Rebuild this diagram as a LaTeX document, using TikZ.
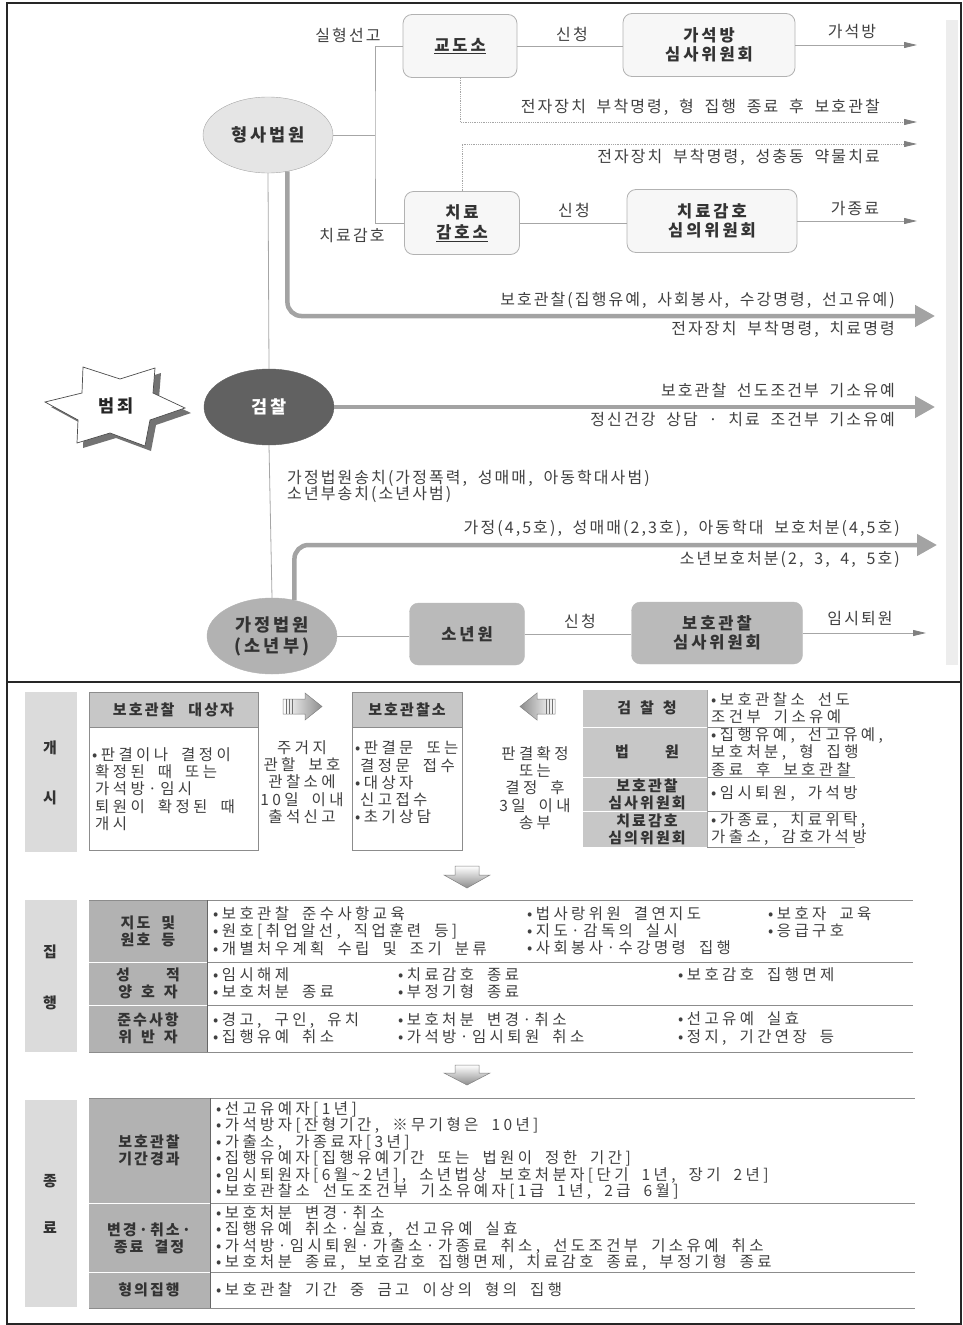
\documentclass[tikz,border=0pt]{standalone}
\usepackage{fontspec}
\setmainfont{Noto Sans CJK KR}
\newfontfamily\topf{Noto Sans CJK KR}[LetterSpace=13, WordSpace=1.9]
\newfontfamily\boxf{Noto Sans CJK KR}[LetterSpace=18]
\newfontfamily\botf{Noto Sans CJK KR}[LetterSpace=22, WordSpace=1.9]
\newfontfamily\both{Noto Sans CJK KR}[LetterSpace=14, WordSpace=2]
\usetikzlibrary{shapes.geometric,arrows.meta,calc}
\tikzset{
 lab/.style={font=\topf\fontsize{16}{18}\selectfont, text=black!75, inner sep=0pt},
 wbox/.style={draw=black!30, fill=black!3, rounded corners=9pt, line width=0.8pt, minimum width=#1, minimum height=63pt, align=center, font=\boxf\bfseries\fontsize{16.5}{19.5}\selectfont, text=black!80, inner sep=0pt},
 gbox/.style={draw=black!27, fill=black!27, rounded corners=9pt, minimum width=#1, minimum height=62pt, align=center, font=\boxf\bfseries\fontsize{16.5}{19.5}\selectfont, text=black!80, inner sep=0pt},
 circ/.style={ellipse, minimum width=130pt, minimum height=76pt, inner sep=0pt, align=center, font=\boxf\bfseries\fontsize{17.5}{21}\selectfont},
 conn/.style={draw=black!35, line width=0.8pt},
 tarrow/.style={conn, -{Triangle[length=13pt,width=6pt,color=black!50,fill=black!50]}},
 dotarrow/.style={draw=black!35, line width=0.8pt, densely dotted, -{Triangle[length=13pt,width=6pt,color=black!50,fill=black!50]}},
 fatarrow/.style={draw=black!36, line width=4.5pt, rounded corners=14pt, -{Triangle[length=20pt,width=21pt,color=black!36,fill=black!36]}},
 bt/.style={font=\botf\fontsize{15.5}{17.2}\selectfont, text=black!75, inner sep=0pt, align=left},
 bte/.style={font=\botf\fontsize{15.5}{16.5}\selectfont, text=black!75, inner sep=0pt, align=left},
 bh/.style={font=\both\bfseries\fontsize{15}{17.2}\selectfont, text=black!80, inner sep=0pt, align=center},
 tblline/.style={draw=black!45, line width=0.7pt},
 sepw/.style={draw=white, line width=1pt},
 blockarrow/.style={draw=black!50, line width=0.5pt},
}
\begin{document}
\begin{tikzpicture}[x=1pt,y=-1pt]
\useasboundingbox (0,0) rectangle (963,1325);
% frame
\fill[black!7] (946,20) rectangle (958,665);
\draw[line width=1.2pt, black!85] (7,3) rectangle (961,1324);
\draw[line width=1.2pt, black!85] (7,682) -- (961,682);

% ---------- top part ----------
\node[circ, draw=black!35, fill=black!10, text=black!80] (hs) at (268,135) {형사법원};
\node[circ, draw=black!62, fill=black!62, text=white] (gc) at (269,407) {검찰};
\node[circ, draw=black!30, fill=black!30, text=black!80] (gj) at (272,636) {가정법원\\(소년부)};

\node[wbox=114pt] (gds) at (460,46) {\underline{교도소}};
\node[wbox=172pt] (gsb) at (709,45) {가석방\\심사위원회};
\node[wbox=115pt] (chg) at (462,223) {치료\\\underline{감호소}};
\node[wbox=170pt] (chs) at (712,221) {치료감호\\심의위원회};
\node[gbox=115pt] (swon) at (467,634) {소년원};
\node[gbox=171pt] (bhs) at (717,633) {보호관찰\\심사위원회};

\coordinate (jn) at (375,135);
\coordinate (a1) at (917,45);
\coordinate (a2) at (917,122);
\coordinate (a3) at (917,144);
\coordinate (a4) at (917,221);
\coordinate (a5) at (935,316);
\coordinate (a6) at (935,406);
\coordinate (a7) at (937,545);
\coordinate (a8) at (926,633);

\draw[conn] (hs.east) -- (jn);
\draw[conn] (gds.west) -| (jn) |- (chg.west);
\node[lab] (l1) at (348,35) {실형선고};
\node[lab] (l2) at (352,236) {치료감호};

\draw[conn] (gds.east) -- (gds.east -| gsb.west);
\node[lab] (l3) at (572,34) {신청};
\draw[tarrow] (gsb.east) -- (a1);
\node[lab] (l4) at (852,32) {가석방};

\draw[dotarrow] (gds.south) |- (a2);
\node[lab, anchor=east] (l5) at (880,107) {전자장치 부착명령, 형 집행 종료 후 보호관찰};
\draw[dotarrow] (chg.north) |- (a3);
\node[lab, anchor=east] (l6) at (880,157) {전자장치 부착명령, 성충동 약물치료};

\draw[conn] (chg.east) -- (chg.east -| chs.west);
\node[lab] (l7) at (574,210) {신청};
\draw[tarrow] (chs.east) -- (a4);
\node[lab] (l8) at (855,208) {가종료};

\draw[fatarrow] (hs.-62) |- (a5);
\node[lab, anchor=east] (l9) at (895,300) {보호관찰(집행유예, 사회봉사, 수강명령, 선고유예)};
\node[lab, anchor=east] (l10) at (895,329) {전자장치 부착명령, 치료명령};

\draw[conn] (hs.south) -- (gc.north);
\draw[conn] (gc.south) -- (gj.north);

% star
\fill[black!55] (89,372) -- (126,384) -- (161,373) -- (159,398) -- (191,413) -- (156,425) -- (151,451) -- (116,438) -- (83,448) -- (84,425) -- (51,407) -- (88,398) -- cycle;
\draw[black!70, fill=white, line width=0.7pt] (83,367) -- (120,379) -- (155,368) -- (153,393) -- (185,408) -- (150,420) -- (145,446) -- (110,433) -- (77,443) -- (78,420) -- (45,402) -- (82,393) -- cycle;
\node[font=\boxf\bfseries\fontsize{17.5}{21}\selectfont, text=black!85] (bj) at (116,406) {범죄};

\draw[fatarrow] (gc.east) -- (gc.east -| a6);
\node[lab, anchor=east] (l11) at (895,390) {보호관찰 선도조건부 기소유예};
\node[lab, anchor=east] (l12) at (895,420) {정신건강 상담 · 치료 조건부 기소유예};

\node[lab, anchor=west] (l13) at (287,478) {가정법원송치(가정폭력, 성매매, 아동학대사범)};
\node[lab, anchor=west] (l14) at (287,494) {소년부송치(소년사범)};

\draw[fatarrow] (gj.58) |- (a7);
\node[lab, anchor=east] (l15) at (900,528) {가정(4,5호), 성매매(2,3호), 아동학대 보호처분(4,5호)};
\node[lab, anchor=east] (l16) at (900,559) {소년보호처분(2, 3, 4, 5호)};

\draw[conn] (gj.east) -- (gj.east -| swon.west);
\draw[conn] (swon.east) -- (swon.east -| bhs.west);
\node[lab] (l17) at (580,621) {신청};
\draw[tarrow] (bhs.east) -- (a8);
\node[lab] (l18) at (860,619) {임시퇴원};

% ---------- bottom part: 개시 ----------
\fill[black!14] (25,692) rectangle (77,852);
\node[bh] (k1) at (50,748) {개};
\node[bh] (k2) at (50,798) {시};

\fill[black!22] (89,692) rectangle (258,727);
\draw[tblline] (89,692) rectangle (258,850);
\draw[tblline] (89,727) -- (258,727);
\node[bh] (t1h) at (173.5,710) {보호관찰\hspace{14pt}대상자};
\node[bt, anchor=west] (t1b) at (92,789) {•판결이나 결정이\\\hspace{3pt}확정된 때 또는\\\hspace{3pt}가석방·임시\\\hspace{3pt}퇴원이 확정된 때\\\hspace{3pt}개시};

\shade[left color=white, right color=black!45, blockarrow] (283,699) -- (305,699) -- (305,693) -- (322,706.5) -- (305,720) -- (305,714) -- (283,714) -- cycle;
\draw[black!55] (286,699) -- (286,714) (289,699) -- (289,714) (292,699) -- (292,714);
\node[bt, align=center] (t2) at (302,782) {주거지\\관할 보호\\관찰소에\\10일 이내\\출석신고};

\fill[black!22] (352,692) rectangle (462,727);
\draw[tblline] (352,692) rectangle (462,850);
\draw[tblline] (352,727) -- (462,727);
\node[bh] (t3h) at (407,710) {보호관찰소};
\node[bt, anchor=west] (t3b) at (355,782.5) {•판결문 또는\\\hspace{5pt}결정문 접수\\•대상자\\\hspace{5pt}신고접수\\•초기상담};

\shade[left color=black!45, right color=white, blockarrow] (555,699) -- (537,699) -- (537,693) -- (520,706.5) -- (537,720) -- (537,714) -- (555,714) -- cycle;
\draw[black!55] (552,699) -- (552,714) (549,699) -- (549,714) (546,699) -- (546,714);
\node[bt, align=center] (t4) at (535,788) {판결확정\\또는\\결정 후\\3일 이내\\송부};

\fill[black!22] (583,690) rectangle (707,847);
\draw[sepw] (583,727) -- (707,727) (583,777) -- (707,777) (583,811) -- (707,811);
\draw[tblline] (707,727) -- (855,727) (707,777) -- (855,777) (707,811) -- (855,811) (707,847) -- (855,847);
\draw[draw=black!35, line width=0.6pt] (707,690) -- (707,847);
\node[bh] (r1) at (647,708) {검\hspace{9pt}찰\hspace{9pt}청};
\node[bh] (r2) at (647,752) {법\hspace{36pt}원};
\node[bh] (r3) at (647,794) {보호관찰\\심사위원회};
\node[bh] (r4) at (647,829) {치료감호\\심의위원회};
\node[bt, anchor=west] (c1) at (711,708) {•보호관찰소 선도\\조건부 기소유예};
\node[bt, anchor=west] (c2) at (711,752) {•집행유예, 선고유예,\\보호처분, 형 집행\\종료 후 보호관찰};
\node[bt, anchor=west] (c3) at (711,794) {•임시퇴원, 가석방};
\node[bt, anchor=west] (c4) at (711,829) {•가종료, 치료위탁,\\가출소, 감호가석방};

% down arrow 1
\shade[top color=white, bottom color=black!45, blockarrow] (455,866) -- (479,866) -- (479,875) -- (490,875) -- (467,888) -- (444,875) -- (455,875) -- cycle;

% ---------- 집행 ----------
\fill[black!14] (25,900) rectangle (77,1052);
\node[bh] (j1) at (50,952) {집};
\node[bh] (j2) at (50,1003) {행};
\fill[black!30] (89,900) rectangle (207,1052);
\draw[sepw] (89,962) -- (207,962) (89,1005) -- (207,1005);
\draw[tblline] (89,900) -- (913,900) (89,1052) -- (913,1052) (207,962) -- (913,962) (207,1005) -- (913,1005);
\draw[draw=black!60, line width=0.7pt] (207,900) -- (207,1052);
\node[bh] (jh1) at (148,931) {지도 및\\원호 등};
\node[bh] (jh2) at (148,983.5) {성\hspace{36pt}적\\양\hspace{9pt}호\hspace{9pt}자};
\node[bh] (jh3) at (148,1028.5) {준수사항\\위\hspace{9pt}반\hspace{9pt}자};
\node[bt, anchor=west] (j11) at (213,931) {•보호관찰 준수사항교육\\•원호[취업알선, 직업훈련 등]\\•개별처우계획 수립 및 조기 분류};
\node[bt, anchor=west] (j12) at (527,931) {•법사랑위원 결연지도\\•지도·감독의 실시\\•사회봉사·수강명령 집행};
\node[bt, anchor=west] (j13) at (768,922.5) {•보호자 교육\\•응급구호};
\node[bt, anchor=west] (j21) at (213,983.5) {•임시해제\\•보호처분 종료};
\node[bt, anchor=west] (j22) at (398,983.5) {•치료감호 종료\\•부정기형 종료};
\node[bt, anchor=west] (j23) at (678,975) {•보호감호 집행면제};
\node[bt, anchor=west] (j31) at (213,1028.5) {•경고, 구인, 유치\\•집행유예 취소};
\node[bt, anchor=west] (j32) at (398,1028.5) {•보호처분 변경·취소\\•가석방·임시퇴원 취소};
\node[bt, anchor=west] (j33) at (678,1028.5) {•선고유예 실효\\•정지, 기간연장 등};

% down arrow 2
\shade[top color=white, bottom color=black!45, blockarrow] (455,1065) -- (479,1065) -- (479,1073) -- (490,1073) -- (467,1085) -- (444,1073) -- (455,1073) -- cycle;

% ---------- 종료 ----------
\fill[black!14] (25,1100) rectangle (77,1307);
\node[bh] (e1) at (50,1181) {종};
\node[bh] (e2) at (50,1228) {료};
\fill[black!30] (89,1098) rectangle (210,1308);
\draw[sepw] (89,1203) -- (210,1203) (89,1272) -- (210,1272);
\draw[tblline] (89,1098) -- (915,1098) (89,1308) -- (915,1308) (210,1203) -- (915,1203) (210,1272) -- (915,1272);
\draw[draw=black!60, line width=0.7pt] (210,1098) -- (210,1308);
\node[bh] (eh1) at (149,1150) {보호관찰\\기간경과};
\node[bh] (eh2) at (149,1238) {변경·취소·\\종료 결정};
\node[bh] (eh3) at (149,1290) {형의집행};
\node[bte, anchor=west] (e11) at (216,1150.5) {•선고유예자[1년]\\•가석방자[잔형기간, ※무기형은 10년]\\•가출소, 가종료자[3년]\\•집행유예자[집행유예기간 또는 법원이 정한 기간]\\•임시퇴원자[6월\textasciitilde 2년], 소년법상 보호처분자[단기 1년, 장기 2년]\\•보호관찰소 선도조건부 기소유예자[1급 1년, 2급 6월]};
\node[bte, anchor=west] (e21) at (216,1238) {•보호처분 변경·취소\\•집행유예 취소·실효, 선고유예 실효\\•가석방·임시퇴원·가출소·가종료 취소, 선도조건부 기소유예 취소\\•보호처분 종료, 보호감호 집행면제, 치료감호 종료, 부정기형 종료};
\node[bte, anchor=west] (e31) at (216,1290) {•보호관찰 기간 중 금고 이상의 형의 집행};
\end{tikzpicture}
\end{document}
